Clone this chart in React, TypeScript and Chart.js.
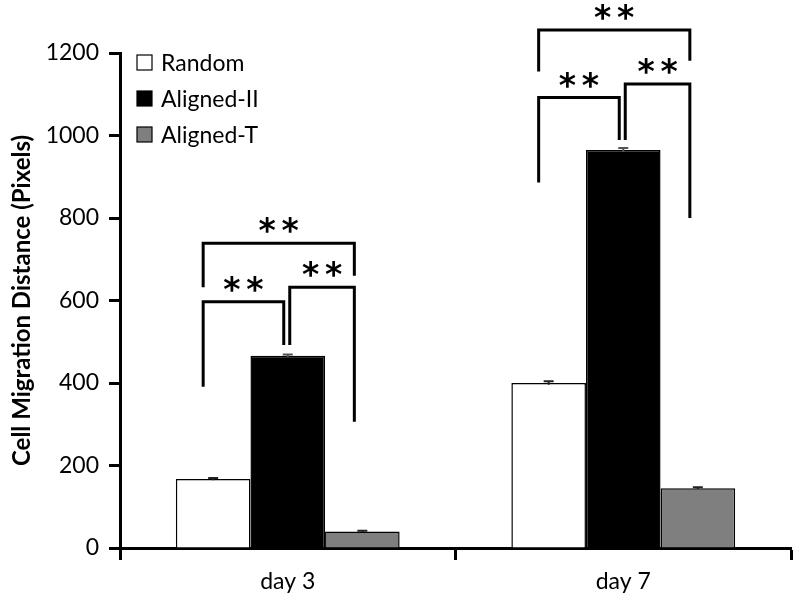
import React, { useEffect, useRef } from "react";
import { Chart, registerables } from "chart.js";

Chart.register(...registerables);

const categories = ["day 3", "day 7"];
const seriesNames = ["Random", "Aligned-II", "Aligned-T"];
const randomValues = [167, 400];
const alignedIIValues = [466, 965];
const alignedTValues = [40, 145];
const randomErrors = [3, 4];
const alignedIIErrors = [3, 5];
const alignedTErrors = [2, 2];
const yTicks = [0, 200, 400, 600, 800, 1000, 1200];

// significance brackets: category, from series, to series, top level, left leg end, right leg end
const bracketCategory = [0, 0, 0, 1, 1, 1];
const bracketFrom = [0, 1, 0, 0, 1, 0];
const bracketTo = [1, 2, 2, 1, 2, 2];
const bracketTop = [597, 632, 739, 1092, 1125, 1256];
const bracketLeftEnd = [391, 492, 632, 886, 989, 1155];
const bracketRightEnd = [492, 306, 660, 989, 800, 1181];
const bracketLabel = ["**", "**", "**", "**", "**", "**"];

const FONT = "Lato, 'Open Sans', sans-serif";
const STAR_FONT = "'DejaVu Sans', sans-serif";

export default function App() {
  const ref = useRef<HTMLCanvasElement | null>(null);

  useEffect(() => {
    document.body.style.margin = "0";
    const canvas = ref.current;
    if (!canvas) return;
    const errors = [randomErrors, alignedIIErrors, alignedTErrors];

    const overlay = {
      id: "overlay",
      afterDatasetsDraw(chart: any) {
        const ctx = chart.ctx;
        const y = chart.scales.y;
        ctx.save();
        // error bars
        chart.data.datasets.forEach((ds: any, i: number) => {
          const meta = chart.getDatasetMeta(i);
          meta.data.forEach((bar: any, j: number) => {
            const v = ds.data[j];
            const e = errors[i][j];
            const yTop = y.getPixelForValue(v + e);
            const yBot = y.getPixelForValue(v - e);
            ctx.strokeStyle = i === 1 ? "#555" : "#222";
            ctx.lineWidth = 2;
            ctx.beginPath();
            ctx.moveTo(bar.x, yTop);
            ctx.lineTo(bar.x, yBot);
            ctx.moveTo(bar.x - 5, yTop);
            ctx.lineTo(bar.x + 5, yTop);
            ctx.stroke();
          });
        });
        // brackets
        const legX = (cat: number, s: number, side: "L" | "R") => {
          const bar = chart.getDatasetMeta(s).data[cat];
          let off = 0;
          if (s === 0) off = -10;
          else if (s === 1) off = side === "L" ? 2 : -4;
          else off = -8;
          return bar.x + off;
        };
        ctx.strokeStyle = "#000";
        ctx.lineWidth = 3;
        ctx.lineCap = "butt";
        ctx.lineJoin = "miter";
        for (let k = 0; k < bracketCategory.length; k++) {
          const c = bracketCategory[k];
          const x1 = legX(c, bracketFrom[k], "L");
          const x2 = legX(c, bracketTo[k], "R");
          const yt = y.getPixelForValue(bracketTop[k]);
          const yl = y.getPixelForValue(bracketLeftEnd[k]);
          const yr = y.getPixelForValue(bracketRightEnd[k]);
          ctx.beginPath();
          ctx.moveTo(x1, yl);
          ctx.lineTo(x1, yt);
          ctx.lineTo(x2, yt);
          ctx.lineTo(x2, yr);
          ctx.stroke();
          // stars
          ctx.fillStyle = "#000";
          ctx.font = `bold 33px ${STAR_FONT}`;
          ctx.textAlign = "center";
          ctx.textBaseline = "alphabetic";
          const m = ctx.measureText("*");
          const cy = yt - 18;
          const by = cy + (m.actualBoundingBoxAscent - m.actualBoundingBoxDescent) / 2;
          const cx = (x1 + x2) / 2;
          const chars = bracketLabel[k].split("");
          chars.forEach((ch, idx) => {
            const dx = (idx - (chars.length - 1) / 2) * 23;
            ctx.fillText(ch, cx + dx, by);
          });
        }
        ctx.restore();
      },
      afterDraw(chart: any) {
        const ctx = chart.ctx;
        ctx.save();
        const x0 = 137;
        const y0 = 62.5;
        const step = 36;
        chart.data.datasets.forEach((ds: any, i: number) => {
          const cy = y0 + i * step;
          ctx.fillStyle = ds.backgroundColor;
          ctx.fillRect(x0, cy - 7.5, 15, 15);
          ctx.strokeStyle = "#000";
          ctx.lineWidth = 1.2;
          ctx.strokeRect(x0, cy - 7.5, 15, 15);
          ctx.fillStyle = "#000";
          ctx.font = `23px ${FONT}`;
          ctx.textAlign = "left";
          ctx.textBaseline = "middle";
          ctx.fillText(ds.label, x0 + 24, cy + 1);
        });
        ctx.restore();
      },
    };

    const chart = new Chart(canvas, {
      type: "bar",
      data: {
        labels: categories,
        datasets: [
          {
            label: seriesNames[0],
            data: randomValues,
            backgroundColor: "#ffffff",
            borderColor: "#000000",
            borderWidth: 1.5,
          },
          {
            label: seriesNames[1],
            data: alignedIIValues,
            backgroundColor: "#000000",
            borderColor: "#000000",
            borderWidth: 1.5,
          },
          {
            label: seriesNames[2],
            data: alignedTValues,
            backgroundColor: "#7f7f7f",
            borderColor: "#000000",
            borderWidth: 1.5,
          },
        ],
      },
      options: {
        responsive: false,
        animation: false,
        layout: { padding: { top: 53, right: 3, left: 0, bottom: 0 } },
        plugins: {
          legend: { display: false },
          tooltip: { enabled: false },
        },
        datasets: {
          bar: { categoryPercentage: 0.667, barPercentage: 1.0 },
        },
        scales: {
          x: {
            grid: {
              display: true,
              offset: true,
              drawOnChartArea: false,
              drawTicks: true,
              tickLength: 12,
              tickWidth: 3,
              tickColor: "#000",
            },
            border: { display: true, width: 3, color: "#000" },
            ticks: {
              color: "#000",
              font: { family: FONT, size: 23 },
              padding: 8,
            },
            afterFit: (scale: any) => {
              scale.height = 51;
            },
          },
          y: {
            min: 0,
            max: 1200,
            afterBuildTicks: (scale: any) => {
              scale.ticks = yTicks.map((v) => ({ value: v }));
            },
            grid: {
              display: true,
              drawOnChartArea: false,
              drawTicks: true,
              tickLength: 11,
              tickWidth: 3,
              tickColor: "#000",
            },
            border: { display: true, width: 3, color: "#000" },
            ticks: {
              color: "#000",
              font: { family: FONT, size: 23 },
              padding: 10,
              callback: (v: any) => String(v),
            },
            title: {
              display: true,
              text: "Cell Migration Distance (Pixels)",
              color: "#000",
              font: { family: FONT, size: 24, weight: "bold" },
              padding: { top: 8, bottom: 0 },
            },
            afterFit: (scale: any) => {
              scale.width = 120;
            },
          },
        },
      },
      plugins: [overlay],
    });
    return () => chart.destroy();
  }, []);

  return (
    <div style={{ width: 794, height: 599 }}>
      <canvas ref={ref} width={794} height={599} style={{ display: "block" }} />
    </div>
  );
}
